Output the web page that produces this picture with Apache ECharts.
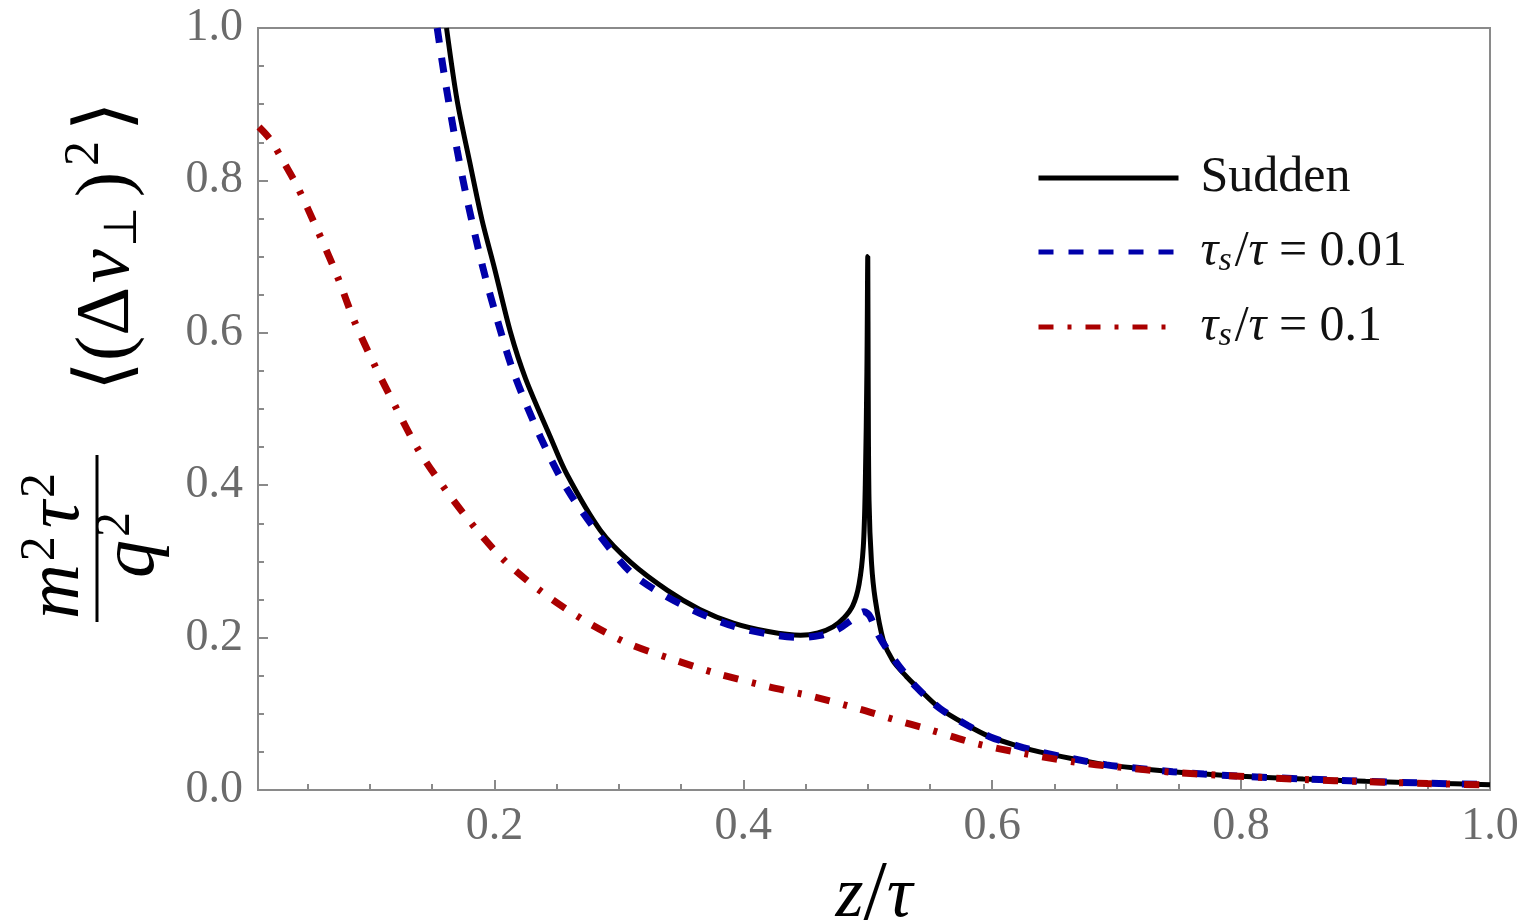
<!DOCTYPE html>
<html>
<head>
<meta charset="utf-8">
<script src="https://cdn.jsdelivr.net/npm/echarts@6/dist/echarts.min.js"></script>
<style>
  html, body { margin: 0; padding: 0; background: #fff; }
  #main { width: 1526px; height: 923px; }
</style>
</head>
<body>
<div id="main"></div>
<script>
// values
var suddenZ = [0.1615, 0.170, 0.180, 0.190, 0.200, 0.213, 0.225, 0.245, 0.258, 0.285, 0.310, 0.339, 0.365, 0.392, 0.420, 0.446, 0.460, 0.472, 0.481, 0.488, 0.493, 0.4964, 0.498, 0.4993, 0.500,
  0.5003, 0.501, 0.503, 0.506, 0.5124, 0.520, 0.531, 0.539, 0.558, 0.580, 0.598, 0.620, 0.638, 0.665, 0.692, 0.720, 0.745, 0.770, 0.800, 0.850, 0.900, 0.950, 1.000];
var suddenV = [1.000, 0.905, 0.825, 0.748, 0.685, 0.600, 0.540, 0.463, 0.415, 0.341, 0.298, 0.262, 0.237, 0.219, 0.208, 0.203, 0.206, 0.214, 0.226, 0.242, 0.270, 0.319, 0.400, 0.550, 0.700,
  0.550, 0.380, 0.298, 0.250, 0.197, 0.170, 0.149, 0.136, 0.107, 0.085, 0.070, 0.058, 0.050, 0.041, 0.033, 0.028, 0.024, 0.021, 0.018, 0.0145, 0.0115, 0.009, 0.007];

var ts001Z = [0.154, 0.160, 0.170, 0.178, 0.190, 0.200, 0.215, 0.237, 0.258, 0.285, 0.310, 0.336, 0.365, 0.392, 0.419, 0.446, 0.462, 0.475, 0.486, 0.4937, 0.497, 0.5017, 0.508, 0.515, 0.525, 0.539,
  0.558, 0.580, 0.598, 0.620, 0.638, 0.665, 0.692, 0.720, 0.745, 0.770, 0.800, 0.850, 0.900, 0.950, 1.000];
var ts001V = [1.000, 0.935, 0.840, 0.775, 0.690, 0.630, 0.550, 0.463, 0.396, 0.333, 0.285, 0.256, 0.232, 0.215, 0.205, 0.200, 0.203, 0.210, 0.222, 0.232, 0.234, 0.228, 0.205, 0.186, 0.163, 0.135,
  0.107, 0.085, 0.070, 0.058, 0.050, 0.041, 0.033, 0.028, 0.024, 0.021, 0.018, 0.0145, 0.0115, 0.009, 0.007];

var ts01Z = [0.0108, 0.0202, 0.030, 0.0416, 0.0577, 0.0738, 0.087, 0.103, 0.1205, 0.139, 0.1607, 0.185, 0.210, 0.2396, 0.2717, 0.3065, 0.344, 0.3787, 0.419, 0.456, 0.4937, 0.520, 0.550,
  0.587, 0.625, 0.665, 0.702, 0.745, 0.780, 0.850, 0.900, 0.950, 1.000];
var ts01V = [0.870, 0.853, 0.826, 0.792, 0.735, 0.674, 0.617, 0.560, 0.503, 0.446, 0.394, 0.343, 0.298, 0.258, 0.223, 0.193, 0.171, 0.153, 0.136, 0.1225, 0.106, 0.093, 0.079,
  0.061, 0.048, 0.037, 0.030, 0.0232, 0.0197, 0.0138, 0.011, 0.0085, 0.0066];

var xTicks = [0.2, 0.4, 0.6, 0.8, 1.0];
var xMinorTicks = [0.05, 0.1, 0.15, 0.25, 0.3, 0.35, 0.45, 0.5, 0.55, 0.65, 0.7, 0.75, 0.85, 0.9, 0.95];
var seriesNames = ['Sudden', 'ts001', 'ts01'];

function pairs(xs, ys) {
  return xs.map(function (x, i) { return [x, ys[i]]; });
}

// 'serif' resolves to Liberation Serif here
var serif = 'serif';
var grey = '#8a8a8a';
var labelGrey = '#6b6b6b';

var myChart = echarts.init(document.getElementById('main'));

var option = {
  animation: false,
  textStyle: { fontFamily: serif },
  grid: {
    left: 258, right: 36, top: 28, bottom: 133,
    outerBoundsMode: 'none', containLabel: false,
    show: true, borderColor: grey, borderWidth: 2
  },
  legend: {
    orient: 'vertical',
    left: 1031, top: 148,
    itemWidth: 140, itemHeight: 30, itemGap: 24,
    itemStyle: { opacity: 0 },
    lineStyle: { width: 5 },
    data: seriesNames,
    formatter: function (name) {
      if (name === 'Sudden') return '{t|Sudden}';
      if (name === 'ts001') return '{i|τ}{s|s}{t|/}{i|τ}{t| = 0.01}';
      return '{i|τ}{s|s}{t|/}{i|τ}{t| = 0.1}';
    },
    textStyle: {
      padding: [0, 0, 0, 17],
      fontFamily: serif,
      rich: {
        t: { fontFamily: serif, fontSize: 50, color: '#111' },
        i: { fontFamily: serif, fontSize: 50, fontStyle: 'italic', color: '#111' },
        s: { fontFamily: serif, fontSize: 34, fontStyle: 'italic', color: '#111', padding: [18, 3, 0, 0] }
      }
    }
  },
  xAxis: [{
    type: 'value', min: 0.01, max: 1,
    name: '{i|z}{t|/}{i|τ}', nameLocation: 'middle', nameGap: 38,
    nameTextStyle: {
      fontFamily: serif,
      rich: {
        i: { fontFamily: serif, fontSize: 72, fontStyle: 'italic', color: '#000' },
        t: { fontFamily: serif, fontSize: 84, color: '#000' }
      }
    },
    axisLine: { show: true, lineStyle: { color: grey, width: 2 } },
    axisTick: { show: true, inside: true, length: 10, customValues: xTicks, lineStyle: { color: grey, width: 2 } },
    axisLabel: {
      customValues: xTicks, margin: 14,
      fontFamily: serif, fontSize: 46, color: labelGrey,
      formatter: function (v) { return v.toFixed(1); }
    },
    splitLine: { show: false }
  }, {
    type: 'value', min: 0.01, max: 1, position: 'bottom',
    axisLine: { show: false },
    axisTick: { show: true, inside: true, length: 6, customValues: xMinorTicks, lineStyle: { color: grey, width: 2 } },
    axisLabel: { show: false },
    splitLine: { show: false }
  }],
  yAxis: {
    type: 'value', min: 0, max: 1, interval: 0.2,
    axisLine: { show: true, lineStyle: { color: grey, width: 2 } },
    axisTick: { show: true, inside: true, length: 10, lineStyle: { color: grey, width: 2 } },
    minorTick: { show: true, splitNumber: 4, length: 6, lineStyle: { color: grey, width: 2 } },
    axisLabel: {
      margin: 15, fontFamily: serif, fontSize: 46, color: labelGrey,
      formatter: function (v) { return v.toFixed(1); }
    },
    splitLine: { show: false }
  },
  graphic: [
    {
      type: 'text', x: 58, y: 542, rotation: Math.PI / 2,
      style: {
        text: '{b|m}{s|2}{b|τ}{s|2}',
        textAlign: 'center', textVerticalAlign: 'middle', align: 'center', verticalAlign: 'middle',
        rich: {
          b: { fontFamily: serif, fontSize: 76, fontStyle: 'italic', fill: '#000' },
          s: { fontFamily: serif, fontSize: 50, fill: '#000', padding: [0, 8, 34, 3] }
        }
      }
    },
    {
      type: 'line', shape: { x1: 97, y1: 455, x2: 97, y2: 622 },
      style: { stroke: '#000', lineWidth: 3 }
    },
    {
      type: 'text', x: 133, y: 545, rotation: Math.PI / 2,
      style: {
        text: '{b|q}{s|2}',
        textAlign: 'center', textVerticalAlign: 'middle', align: 'center', verticalAlign: 'middle',
        rich: {
          b: { fontFamily: serif, fontSize: 76, fontStyle: 'italic', fill: '#000' },
          s: { fontFamily: serif, fontSize: 50, fill: '#000', padding: [0, 0, 34, 3] }
        }
      }
    },
    {
      type: 'text', x: 108, y: 246, rotation: Math.PI / 2,
      style: {
        text: '{r|⟨(Δ}{b|v}{d|⊥}{r|)}{s|2}{r|⟩}',
        textAlign: 'center', textVerticalAlign: 'middle', align: 'center', verticalAlign: 'middle',
        rich: {
          r: { fontFamily: serif, fontSize: 76, fill: '#000', padding: [0, 4, 0, 4] },
          b: { fontFamily: serif, fontSize: 76, fontStyle: 'italic', fill: '#000' },
          d: { fontFamily: serif, fontSize: 46, fill: '#000', padding: [32, 6, 0, 2] },
          s: { fontFamily: serif, fontSize: 50, fill: '#000', padding: [0, 6, 46, 2] }
        }
      }
    }
  ],
  series: [
    {
      name: 'Sudden', type: 'line', symbol: 'none', xAxisIndex: 0,
      smooth: 0.3,
      lineStyle: { color: '#000000', width: 5 }, itemStyle: { color: '#000000' },
      data: pairs(suddenZ, suddenV), z: 3
    },
    {
      name: 'ts001', type: 'line', symbol: 'none', xAxisIndex: 0,
      smooth: 0.3,
      lineStyle: { color: '#0000aa', width: 7, type: [15, 15] }, itemStyle: { color: '#0000aa' },
      data: pairs(ts001Z, ts001V), z: 4
    },
    {
      name: 'ts01', type: 'line', symbol: 'none', xAxisIndex: 0,
      smooth: 0.3,
      lineStyle: { color: '#aa0000', width: 7, type: [15, 14, 4, 14] }, itemStyle: { color: '#aa0000' },
      data: pairs(ts01Z, ts01V), z: 5
    }
  ]
};

myChart.setOption(option);
</script>
</body>
</html>
